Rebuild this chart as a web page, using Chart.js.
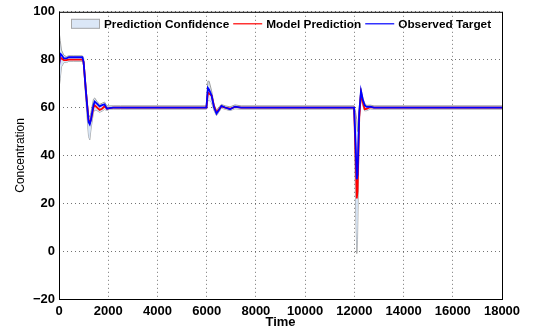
<!DOCTYPE html>
<html>
<head>
<meta charset="utf-8">
<script src="https://cdn.jsdelivr.net/npm/chart.js@4.4.1/dist/chart.umd.min.js"></script>
<style>
  html, body { margin: 0; padding: 0; background: #fff; }
  #wrap { width: 535px; height: 334px; position: relative; }
</style>
</head>
<body>
<div id="wrap"><canvas id="chart"></canvas></div>
<script>
const time = [0, 50, 100, 200, 300, 400, 600, 950, 1000, 1100, 1200, 1250, 1300, 1400, 1450, 1550, 1650, 1750, 1850, 1950, 2050, 2200, 2500,
    5990, 6000, 6050, 6100, 6200, 6300, 6400, 6500, 6600, 6750, 6950, 7150, 7400,
    11990, 12000, 12050, 12100, 12130, 12200, 12270, 12350, 12420, 12500, 12650, 12800, 18000];

const observed = [77, 82.5, 82, 80.5, 80.5, 81, 81, 81, 79, 66, 54, 53, 55, 61, 62.5, 61.5, 60.5, 61, 61.3, 59.5, 59.8, 60, 60,
    60, 60, 68.2, 67.5, 65, 60, 57.5, 59, 60.7, 60, 59.3, 60.4, 60,
    60, 60, 45, 30, 32, 58, 67, 63, 61, 60.3, 60.4, 60, 60];

const model = [78, 81, 80.5, 79.8, 79.8, 80, 80, 80, 79, 66, 55, 53.5, 55, 60, 61, 60, 59, 59.5, 60.5, 59.5, 59.8, 60, 60,
    60, 60, 66.3, 65.8, 65, 60.5, 58, 59.2, 60.5, 60, 59.5, 60.3, 60,
    60, 60, 40, 22, 25, 56, 66, 62, 59.3, 59.4, 60.2, 60, 60];

const upperBound = [92, 88, 84, 81.8, 81.3, 81.6, 81.6, 81.6, 80.6, 68, 57, 56, 58, 63.5, 64, 62.5, 61.3, 61.8, 62.3, 60.7, 60.7, 60.7, 60.7,
    60.7, 60.7, 71, 71, 67, 61.3, 58.8, 60.3, 61.3, 60.7, 60.3, 61.1, 60.7,
    60.7, 60.7, 58, 55, 50, 60, 68, 64, 61.8, 60.9, 61, 60.7, 60.7];

const lowerBound = [68, 72, 77, 78.8, 78.8, 79.3, 79.3, 79.3, 77.5, 62, 48, 46.5, 51, 58, 59, 58.7, 58, 58.5, 59.2, 58.8, 59.3, 59.3, 59.3,
    59.3, 59.3, 63, 63, 62, 58.7, 56.6, 58.2, 59.7, 59.3, 58.7, 59.5, 59.3,
    59.3, 57, 20, -1, 5, 54, 64, 60.6, 58.6, 58.7, 59.4, 59.3, 59.3];

const xTicks = [0, 2000, 4000, 6000, 8000, 10000, 12000, 14000, 16000, 18000];
const yTicks = [-20, 0, 20, 40, 60, 80, 100];
const seriesNames = ['Prediction Confidence', 'Model Prediction', 'Observed Target'];

const FONT = "'Liberation Sans', Helvetica, Arial, sans-serif";
const pts = vals => time.map((t, i) => ({ x: t, y: vals[i] }));

// legend drawn inside the axes, like the original figure
const insideLegend = {
    id: 'insideLegend',
    afterDraw(chart) {
        const { ctx, chartArea } = chart;
        const items = [
            { text: seriesNames[0], kind: 'box' },
            { text: seriesNames[1], kind: 'line', color: '#ff0000' },
            { text: seriesNames[2], kind: 'line', color: '#0000ff' }
        ];
        ctx.save();
        ctx.font = 'bold 11.8px ' + FONT;
        ctx.textBaseline = 'middle';
        let x = chartArea.left + 12;
        const y = chartArea.top + 12;
        items.forEach(it => {
            if (it.kind === 'box') {
                ctx.fillStyle = '#dbe7f7';
                ctx.fillRect(x, y - 5, 29, 10);
                ctx.strokeStyle = '#a8a8a8';
                ctx.lineWidth = 1;
                ctx.strokeRect(x + 0.5, y - 4.5, 28, 9);
            } else {
                ctx.strokeStyle = it.color;
                ctx.lineWidth = 1.2;
                ctx.beginPath();
                ctx.moveTo(x, y);
                ctx.lineTo(x + 29, y);
                ctx.stroke();
            }
            x += 33;
            ctx.fillStyle = '#000';
            ctx.fillText(it.text, x, y + 1);
            x += ctx.measureText(it.text).width + 4;
        });
        ctx.restore();
    }
};

const frame = {
    id: 'frame',
    afterDatasetsDraw(chart) {
        const { ctx, chartArea: a } = chart;
        ctx.save();
        ctx.strokeStyle = '#000';
        ctx.lineWidth = 1;
        ctx.strokeRect(a.left + 0.5, a.top + 0.5, a.right - a.left, a.bottom - a.top);
        ctx.restore();
    }
};

new Chart(document.getElementById('chart'), {
    type: 'line',
    data: {
        datasets: [{
                label: seriesNames[0],
                data: pts(upperBound),
                borderColor: '#a0a0a0',
                borderWidth: 1,
                backgroundColor: 'rgba(210,226,245,0.85)',
                fill: '+1',
                pointRadius: 0,
                order: 3
            },
            {
                label: seriesNames[0] + ' (lower)',
                data: pts(lowerBound),
                borderColor: '#a0a0a0',
                borderWidth: 1,
                fill: false,
                pointRadius: 0,
                order: 3
            },
            {
                label: seriesNames[1],
                data: pts(model),
                borderColor: '#ff0000',
                borderWidth: 1.8,
                fill: false,
                pointRadius: 0,
                order: 1
            },
            {
                label: seriesNames[2],
                data: pts(observed),
                borderColor: '#0000ff',
                borderWidth: 1.8,
                fill: false,
                pointRadius: 0,
                order: 0
            }
        ]
    },
    options: {
        responsive: true,
        maintainAspectRatio: false,
        animation: false,
        layout: { padding: { left: 0, right: 33, top: 7, bottom: 0 } },
        plugins: {
            legend: { display: false },
            tooltip: { enabled: false }
        },
        scales: {
            x: {
                type: 'linear',
                min: 0,
                max: 18000,
                afterBuildTicks: s => { s.ticks = xTicks.map(v => ({ value: v })); },
                afterFit: s => { s.height = 35; },
                grid: { color: 'rgba(0,0,0,0.55)', drawTicks: false },
                border: { display: false, dash: [1, 3] },
                ticks: {
                    color: '#000',
                    padding: 5,
                    maxRotation: 0,
                    font: { family: FONT, size: 13, weight: 'bold' },
                    callback: v => String(v)
                },
                title: {
                    display: true,
                    text: 'Time',
                    color: '#000',
                    padding: { top: 0, bottom: 4 },
                    font: { family: FONT, size: 13, weight: 'bold' }
                }
            },
            y: {
                type: 'linear',
                min: -20,
                max: 100,
                afterBuildTicks: s => { s.ticks = yTicks.map(v => ({ value: v })); },
                afterFit: s => { s.width = 59; },
                grid: { color: 'rgba(0,0,0,0.55)', drawTicks: false },
                border: { display: false, dash: [1, 3] },
                ticks: {
                    color: '#000',
                    padding: 4,
                    font: { family: FONT, size: 13, weight: 'bold' },
                    callback: v => String(v).replace('-', '\u2212')
                },
                title: {
                    display: true,
                    text: 'Concentration',
                    color: '#000',
                    padding: { top: 13, bottom: 0 },
                    font: { family: FONT, size: 12 }
                }
            }
        }
    },
    plugins: [frame, insideLegend]
});
</script>
</body>
</html>
